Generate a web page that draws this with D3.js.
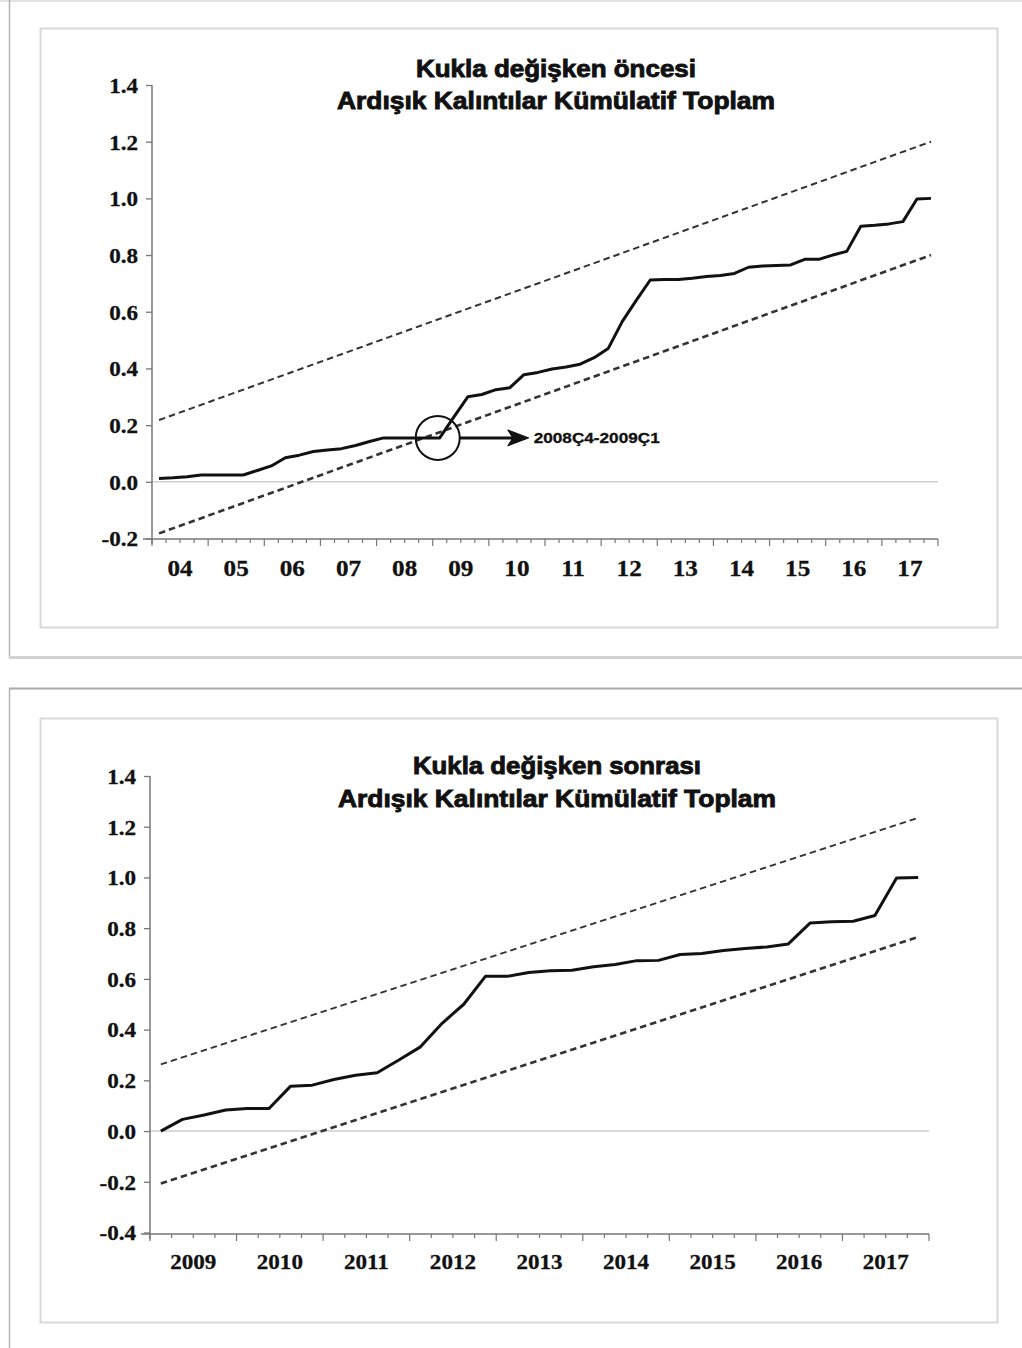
<!DOCTYPE html>
<html>
<head>
<meta charset="utf-8">
<script src="https://cdn.jsdelivr.net/npm/d3@7"></script>
<style>
  body { margin: 0; background: #fff; }
  svg { display: block; }
</style>
</head>
<body>
<svg id="chart" width="1022" height="1348"></svg>
<script>
// ---------------- DATA ----------------
const quarters = ["Q1", "Q2", "Q3", "Q4"];

const topYears = [2004, 2005, 2006, 2007, 2008, 2009, 2010, 2011, 2012, 2013, 2014, 2015, 2016, 2017];
const topYearLabels = ["04", "05", "06", "07", "08", "09", "10", "11", "12", "13", "14", "15", "16", "17"];
const topYTicks = [-0.2, 0.0, 0.2, 0.4, 0.6, 0.8, 1.0, 1.2, 1.4];
const topTitle = ["Kukla değişken öncesi", "Ardışık Kalıntılar Kümülatif Toplam"];
// CUSUM of squares, 2004Q1 - 2017Q4
const topCusum = [
  0.012, 0.014, 0.018, 0.024, 0.024, 0.024, 0.024, 0.040,
  0.056, 0.085, 0.094, 0.107, 0.112, 0.117, 0.128, 0.142,
  0.155, 0.155, 0.155, 0.155, 0.155, 0.228, 0.300, 0.308,
  0.325, 0.332, 0.378, 0.386, 0.398, 0.405, 0.415, 0.438,
  0.470, 0.565, 0.640, 0.712, 0.714, 0.714, 0.718, 0.724,
  0.728, 0.735, 0.757, 0.761, 0.763, 0.765, 0.785, 0.785,
  0.800, 0.813, 0.902, 0.905, 0.910, 0.918, 0.998, 1.000
];
// 5% significance bounds (value at first and last quarter)
const topUpper = [0.218, 1.200];
const topLower = [-0.182, 0.800];
const topAnnotation = { label: "2008Ç4-2009Ç1", period: "2009Q1", value: 0.155 };

const bottomYears = [2009, 2010, 2011, 2012, 2013, 2014, 2015, 2016, 2017];
const bottomYearLabels = ["2009", "2010", "2011", "2012", "2013", "2014", "2015", "2016", "2017"];
const bottomYTicks = [-0.4, -0.2, 0.0, 0.2, 0.4, 0.6, 0.8, 1.0, 1.2, 1.4];
const bottomTitle = ["Kukla değişken sonrası", "Ardışık Kalıntılar Kümülatif Toplam"];
// CUSUM of squares, 2009Q1 - 2017Q4
const bottomCusum = [
  0.000, 0.046, 0.063, 0.083, 0.089, 0.089, 0.177, 0.181, 0.203,
  0.220, 0.230, 0.280, 0.332, 0.425, 0.500, 0.610, 0.610, 0.625,
  0.632, 0.634, 0.648, 0.657, 0.672, 0.673, 0.696, 0.700, 0.712,
  0.720, 0.726, 0.738, 0.820, 0.825, 0.827, 0.850, 0.998, 1.000
];
const bottomUpper = [0.263, 1.235];
const bottomLower = [-0.207, 0.765];

// ---------------- DRAWING ----------------
const svg = d3.select("#chart");

// page frame
const frame = svg.append("g");
frame.append("line").attr("x1", 0).attr("x2", 1022).attr("y1", 1).attr("y2", 1)
  .attr("stroke", "#e2e2e2").attr("stroke-width", 2);
frame.append("line").attr("x1", 9.5).attr("x2", 9.5).attr("y1", 0).attr("y2", 658)
  .attr("stroke", "#b5b5b5").attr("stroke-width", 1.5);
frame.append("line").attr("x1", 9.5).attr("x2", 9.5).attr("y1", 689).attr("y2", 1348)
  .attr("stroke", "#b5b5b5").attr("stroke-width", 1.5);
frame.append("line").attr("x1", 9).attr("x2", 1022).attr("y1", 657.5).attr("y2", 657.5)
  .attr("stroke", "#d2d2d2").attr("stroke-width", 3);
frame.append("line").attr("x1", 9).attr("x2", 1022).attr("y1", 688.5).attr("y2", 688.5)
  .attr("stroke", "#a8a8a8").attr("stroke-width", 2);
frame.append("rect").attr("x", 40.5).attr("y", 28.5).attr("width", 957).attr("height", 599)
  .attr("fill", "none").attr("stroke", "#d9d9d9").attr("stroke-width", 2);
frame.append("rect").attr("x", 40.5).attr("y", 718.5).attr("width", 957).attr("height", 604)
  .attr("fill", "none").attr("stroke", "#d9d9d9").attr("stroke-width", 2);

function drawPanel(cfg) {
  const g = svg.append("g");
  const periods = d3.cross(cfg.years, quarters).map(([yy, q]) => yy + q);
  const xq = d3.scaleBand().domain(periods).range([cfg.x0, cfg.x1]);
  const xy = d3.scaleBand().domain(cfg.years).range([cfg.x0, cfg.x1]);
  const y = d3.scaleLinear().domain(cfg.yDomain).range([cfg.yBottom, cfg.yTop]);
  const cx = p => xq(p) + xq.bandwidth() / 2;

  // titles
  cfg.titles.forEach((t, i) => {
    g.append("text")
      .attr("x", cfg.titleX).attr("y", cfg.titleY[i])
      .attr("text-anchor", "middle")
      .attr("font-family", "'Liberation Sans', Arial, sans-serif")
      .attr("font-weight", "bold").attr("font-size", 24)
      .attr("textLength", cfg.titleW[i]).attr("lengthAdjust", "spacingAndGlyphs")
      .attr("fill", "#111").attr("stroke", "#111").attr("stroke-width", 0.9)
      .text(t);
  });

  // zero line
  g.append("line").attr("x1", cfg.x0).attr("x2", cfg.x1)
    .attr("y1", y(0)).attr("y2", y(0))
    .attr("stroke", "#cfcfcf").attr("stroke-width", 1.5);

  // bounds
  const ends = [periods[0], periods[periods.length - 1]];
  const bLine = d3.line().x((d, i) => cx(ends[i])).y(d => y(d));
  [[cfg.upper, 2], [cfg.lower, 2.6]].forEach(([b, w]) => {
    g.append("path").datum(b).attr("d", bLine)
      .attr("fill", "none").attr("stroke", "#333").attr("stroke-width", w)
      .attr("stroke-dasharray", "6.5,4");
  });

  // CUSUM line
  const line = d3.line().x((d, i) => cx(periods[i])).y(d => y(d));
  g.append("path").datum(cfg.values).attr("d", line)
    .attr("fill", "none").attr("stroke", "#111").attr("stroke-width", 3)
    .attr("stroke-linejoin", "round");

  // y axis
  const ya = g.append("g").attr("transform", `translate(${cfg.x0},0)`)
    .call(d3.axisLeft(y).tickValues(cfg.yTicks).tickSize(6).tickFormat(d => d.toFixed(1)));
  ya.select(".domain").remove();
  ya.selectAll(".tick line").attr("stroke", "#777").attr("stroke-width", 1.3);
  ya.selectAll(".tick text")
    .attr("x", -12.7).attr("dy", "0.35em")
    .attr("transform", "scale(1.1,1)")
    .attr("font-family", "'Liberation Serif', 'Times New Roman', serif")
    .attr("font-weight", "bold").attr("font-size", 21).attr("fill", "#111")
    .attr("stroke", "#111").attr("stroke-width", 0.3);
  g.append("line").attr("x1", cfg.x0).attr("x2", cfg.x0)
    .attr("y1", cfg.yTop).attr("y2", cfg.axisY + 5)
    .attr("stroke", "#777").attr("stroke-width", 1.5);

  // x axis
  g.append("line").attr("x1", cfg.x0 - 9).attr("x2", cfg.x1)
    .attr("y1", cfg.axisY).attr("y2", cfg.axisY)
    .attr("stroke", "#777").attr("stroke-width", 1.5);
  const tickPos = periods.map((p, i) => ({ x: xq(p), long: i % 4 === 0 }))
    .concat([{ x: cfg.x1, long: true }]);
  g.append("g").selectAll("line").data(tickPos).join("line")
    .attr("x1", d => d.x).attr("x2", d => d.x)
    .attr("y1", cfg.axisY).attr("y2", d => cfg.axisY + (d.long ? 7 : 4))
    .attr("stroke", "#777").attr("stroke-width", 1.2);
  g.append("g").selectAll("text").data(cfg.years).join("text")
    .attr("transform", d => `translate(${xy(d) + xy.bandwidth() / 2},${cfg.axisY + cfg.xLabelDy}) scale(${cfg.xStretch},1)`)
    .attr("text-anchor", "middle")
    .attr("font-family", "'Liberation Serif', 'Times New Roman', serif")
    .attr("font-weight", "bold").attr("font-size", cfg.xFont).attr("fill", "#111")
    .attr("stroke", "#111").attr("stroke-width", 0.3)
    .text((d, i) => cfg.yearLabels[i]);

  return { g, xq, y, cx };
}

const topPanel = drawPanel({
  years: topYears, yearLabels: topYearLabels, values: topCusum,
  upper: topUpper, lower: topLower, yTicks: topYTicks, yDomain: [-0.2, 1.4],
  x0: 152, x1: 938, yTop: 85, yBottom: 538.5, axisY: 539,
  titles: topTitle, titleX: 556, titleY: [77, 109], titleW: [280, 438],
  xFont: 24, xStretch: 1.05, xLabelDy: 37
});

const bottomPanel = drawPanel({
  years: bottomYears, yearLabels: bottomYearLabels, values: bottomCusum,
  upper: bottomUpper, lower: bottomLower, yTicks: bottomYTicks, yDomain: [-0.4, 1.4],
  x0: 150, x1: 929, yTop: 776, yBottom: 1232.5, axisY: 1234,
  titles: bottomTitle, titleX: 557, titleY: [774, 807], titleW: [288, 438],
  xFont: 22, xStretch: 1.05, xLabelDy: 35
});

// annotation on top panel
const ax = topPanel.cx(topAnnotation.period) - 2;
const ay = topPanel.y(topAnnotation.value);
const ann = topPanel.g.append("g");
ann.append("circle").attr("cx", ax).attr("cy", ay).attr("r", 22)
  .attr("fill", "none").attr("stroke", "#111").attr("stroke-width", 2);
ann.append("line").attr("x1", ax + 22).attr("x2", ax + 80).attr("y1", ay).attr("y2", ay)
  .attr("stroke", "#111").attr("stroke-width", 3);
ann.append("path")
  .attr("d", `M${ax + 91},${ay} L${ax + 70},${ay - 8} L${ax + 75},${ay} L${ax + 70},${ay + 8} Z`)
  .attr("fill", "#111").attr("stroke", "#111").attr("stroke-width", 1);
ann.append("text").attr("x", ax + 96).attr("y", ay + 5)
  .attr("font-family", "'Liberation Sans', Arial, sans-serif")
  .attr("font-weight", "bold").attr("font-size", 14)
  .attr("textLength", 126).attr("lengthAdjust", "spacingAndGlyphs")
  .attr("fill", "#111").attr("stroke", "#111").attr("stroke-width", 0.3)
  .text(topAnnotation.label);
</script>
</body>
</html>
